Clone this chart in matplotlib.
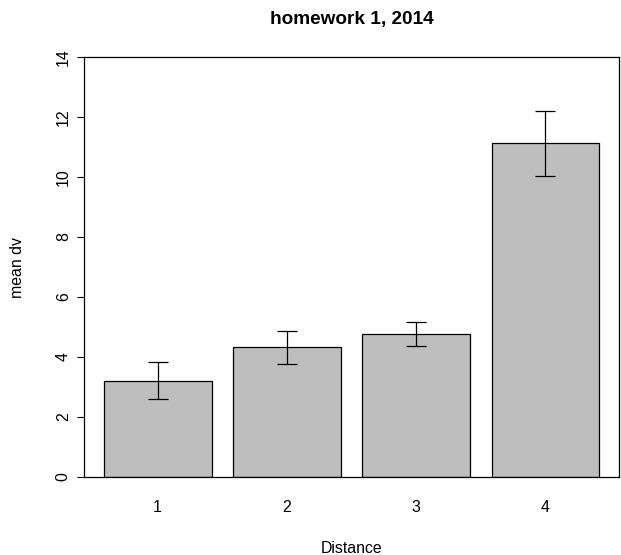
import numpy as np
import matplotlib.pyplot as plt

plt.rcParams['font.family'] = ['Liberation Sans', 'DejaVu Sans']

# Daten
distance = ['1', '2', '3', '4']
mean_dv = [3.21, 4.32, 4.78, 11.12]
se_dv = [0.62, 0.555, 0.40, 1.085]

# Balkenpositionen wie bei R barplot (width 1, space 0.2)
x = np.arange(len(distance)) * 1.2 + 0.7

fig = plt.figure(figsize=(6.21, 5.55), dpi=100)
ax = fig.add_axes([0.1353, 0.1405, 0.8615, 0.7568])

ax.bar(x, mean_dv, width=1.0, color='#bebebe', edgecolor='black', linewidth=0.9)
ax.errorbar(x, mean_dv, yerr=se_dv, fmt='none', ecolor='black',
            elinewidth=0.9, capsize=7, capthick=0.9)

ax.set_xlim(0.016, 4.984)
ax.set_ylim(0, 14)
ax.set_yticks(np.arange(0, 15, 2))
ax.set_yticklabels([str(v) for v in range(0, 15, 2)], rotation=90, va='center')
ax.set_xticks(x)
ax.set_xticklabels(distance)
ax.tick_params(axis='x', length=0, pad=16.5, labelsize=11.4)
ax.tick_params(axis='y', length=5, width=0.8, pad=4.5, labelsize=11.4)
for s in ax.spines.values():
    s.set_linewidth(0.9)

ax.set_xlabel('Distance', fontsize=11.4, labelpad=19)
ax.set_ylabel('mean dv', fontsize=11.4, labelpad=22)
ax.set_title('homework 1, 2014', fontsize=13.7, fontweight='bold', pad=23.5)

fig.savefig('out.png', dpi=100)
